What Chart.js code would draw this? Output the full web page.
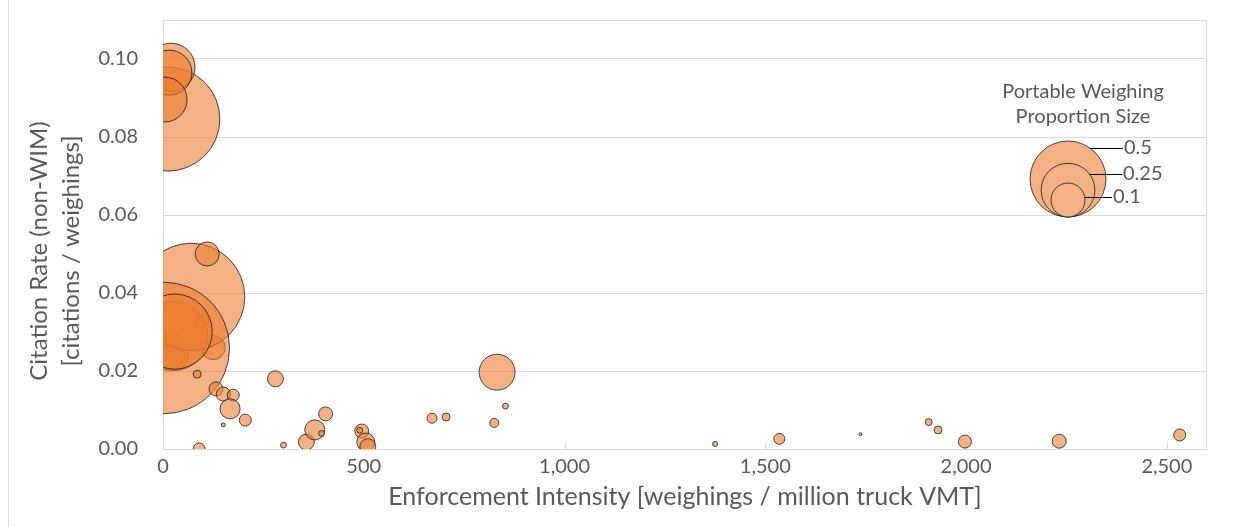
<!DOCTYPE html>
<html>
<head>
<meta charset="utf-8">
<script src="https://cdn.jsdelivr.net/npm/chart.js@4.4.1/dist/chart.umd.min.js"></script>
<style>
  html, body { margin: 0; padding: 0; background: #fff; }
  #wrap { position: relative; width: 1244px; height: 527px; }
  #frame { position: absolute; left: 8px; top: 0; width: 1px; height: 527px; background: #d9d9d9; }
  canvas { position: absolute; left: 0; top: 0; }
</style>
</head>
<body>
<div id="wrap">
  <div id="frame"></div>
  <canvas id="myChart" width="1244" height="527"></canvas>
</div>
<script>
// values, in drawing order
const enforcementIntensity = [
  97, 22, 125, 30, 25,
  12, 20, 16, 4,
  70, 2, 29,
  110, 85, 280, 132, 150, 175, 167, 205, 150, 90,
  300, 357, 378, 405, 395, 495, 490, 505, 510,
  832, 670, 705, 825, 853,
  1375, 1535, 1737, 1907, 1930, 1997, 2232, 2532
];
const citationRate = [
  0.0328, 0.0274, 0.0260, 0.0236, 0.0290,
  0.0846, 0.0979, 0.0965, 0.0896,
  0.0390, 0.0259, 0.0301,
  0.0500, 0.0192, 0.0180, 0.0154, 0.0141, 0.0138, 0.0103, 0.0074, 0.0062, 0.0000,
  0.0010, 0.0018, 0.0049, 0.0090, 0.0040, 0.0046, 0.0048, 0.0018, 0.0006,
  0.0197, 0.0079, 0.0082, 0.0067, 0.0110,
  0.0013, 0.0026, 0.0038, 0.0069, 0.0049, 0.0019, 0.0020, 0.0036
];
const portableProportion = [
  0.017, 0.035, 0.05, 0.06, 0.42,
  0.94, 0.2, 0.175, 0.175,
  1.0, 1.5, 0.49,
  0.05, 0.0055, 0.022, 0.017, 0.017, 0.0125, 0.035, 0.0125, 0.0014, 0.0125,
  0.003, 0.022, 0.035, 0.017, 0.003, 0.017, 0.003, 0.028, 0.022,
  0.112, 0.0087, 0.0055, 0.007, 0.003,
  0.0022, 0.0105, 0.0008, 0.0042, 0.0055, 0.0147, 0.017, 0.0125
];
const xTicks = [0, 500, 1000, 1500, 2000, 2500];
const yTicks = [0, 0.02, 0.04, 0.06, 0.08, 0.10];
const legendSizes = [0.5, 0.25, 0.1];
const legendTitle = ['Portable Weighing', 'Proportion Size'];
const xTitle = 'Enforcement Intensity [weighings / million truck VMT]';
const yTitle = ['Citation Rate (non-WIM)', '[citations / weighings]'];

const FONT = 'Lato';
const TEXT = '#595959';
const GRID = '#d9d9d9';
const FILL = 'rgba(237, 125, 49, 0.6)';
const EDGE = 'rgba(30, 30, 30, 0.8)';

// bubble area follows the value (like Excel)
const radiusFor = v => 53.7 * Math.sqrt(v);

const points = enforcementIntensity.map((x, i) => ({
  x: x,
  y: citationRate[i],
  r: radiusFor(portableProportion[i])
}));

// plot frame, inside tick marks, y title and size legend
const extras = {
  id: 'extras',
  beforeDatasetsDraw(chart) {
    const { ctx, chartArea: a, scales } = chart;
    ctx.save();
    ctx.strokeStyle = GRID;
    ctx.lineWidth = 1;
    ctx.strokeRect(a.left + 0.5, a.top + 0.5, a.right - a.left - 1, a.bottom - a.top);
    xTicks.forEach(v => {
      if (v === 0) return;
      const px = Math.round(scales.x.getPixelForValue(v)) + 0.5;
      ctx.beginPath();
      ctx.moveTo(px, a.bottom);
      ctx.lineTo(px, a.bottom - 6);
      ctx.stroke();
    });
    ctx.restore();
  },
  afterDraw(chart) {
    const { ctx } = chart;
    ctx.save();
    // y axis title
    ctx.fillStyle = TEXT;
    ctx.font = '24px ' + FONT;
    ctx.textAlign = 'center';
    ctx.textBaseline = 'middle';
    ctx.translate(39, 251);
    ctx.rotate(-Math.PI / 2);
    yTitle.forEach((t, i) => ctx.fillText(t, 0, i * 32));
    ctx.restore();

    // size legend
    ctx.save();
    ctx.fillStyle = TEXT;
    ctx.font = '20px ' + FONT;
    ctx.textAlign = 'center';
    ctx.textBaseline = 'middle';
    legendTitle.forEach((t, i) => ctx.fillText(t, 1083, 92 + i * 25));
    const cx = 1068, base = 217;
    const labelY = [148, 174, 197];
    const labelX = [1123, 1122, 1112];
    legendSizes.forEach(s => {
      const r = radiusFor(s);
      ctx.beginPath();
      ctx.arc(cx, base - r, r, 0, Math.PI * 2);
      ctx.fillStyle = 'rgb(244, 177, 131)';
      ctx.fill();
      ctx.strokeStyle = EDGE;
      ctx.lineWidth = 1;
      ctx.stroke();
    });
    legendSizes.forEach((s, i) => {
      const r = radiusFor(s);
      const cy = base - r;
      const dy = labelY[i] - cy;
      const startX = cx + Math.sqrt(Math.max(0, r * r - dy * dy));
      ctx.beginPath();
      ctx.moveTo(startX, labelY[i] + 0.5);
      ctx.lineTo(labelX[i], labelY[i] + 0.5);
      ctx.strokeStyle = '#000';
      ctx.stroke();
      ctx.fillStyle = TEXT;
      ctx.textAlign = 'left';
      ctx.fillText(String(s), labelX[i] + 1, labelY[i]);
    });
    ctx.restore();
  }
};

new Chart(document.getElementById('myChart').getContext('2d'), {
  type: 'bubble',
  data: {
    datasets: [{
      label: 'States',
      data: points,
      backgroundColor: FILL,
      borderColor: EDGE,
      borderWidth: 1,
      hoverBorderWidth: 1,
      clip: 0
    }]
  },
  options: {
    responsive: false,
    animation: false,
    events: [],
    layout: { autoPadding: false, padding: { left: 0, right: 37, top: 20, bottom: 0 } },
    plugins: {
      legend: { display: false },
      tooltip: { enabled: false }
    },
    scales: {
      x: {
        type: 'linear',
        min: 0,
        max: 2600,
        afterBuildTicks: s => { s.ticks = xTicks.map(v => ({ value: v })); },
        afterFit: s => { s.height = 78; s.paddingLeft = 0; s.paddingRight = 0; },
        grid: { drawOnChartArea: false, drawTicks: false },
        border: { display: false },
        ticks: {
          padding: 6,
          color: TEXT,
          font: { family: FONT, size: 20 },
          callback: v => v.toLocaleString('en-US')
        },
        title: {
          display: true,
          text: xTitle,
          color: TEXT,
          font: { family: FONT, size: 25 },
          padding: { top: 0, bottom: 15 }
        }
      },
      y: {
        type: 'linear',
        min: 0,
        max: 0.11,
        afterBuildTicks: s => { s.ticks = yTicks.map(v => ({ value: v })); },
        afterFit: s => { s.width = 163; s.paddingTop = 0; s.paddingBottom = 0; },
        grid: { color: GRID, drawTicks: false },
        border: { display: false },
        ticks: {
          padding: 25,
          color: TEXT,
          font: { family: FONT, size: 20 },
          callback: v => v.toFixed(2)
        }
      }
    }
  },
  plugins: [extras]
});
</script>
</body>
</html>
